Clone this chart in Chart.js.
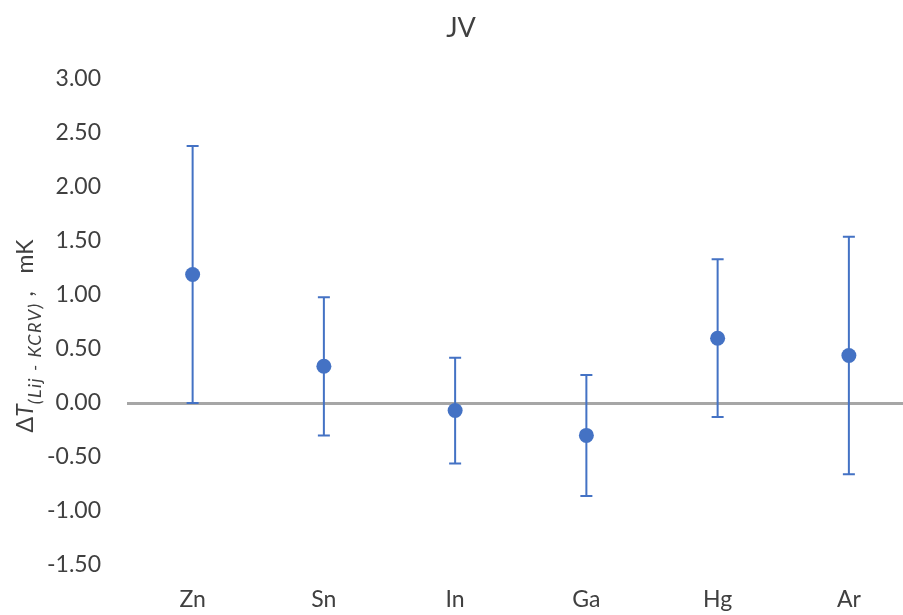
<!DOCTYPE html>
<html>
<head>
<meta charset="utf-8">
<script src="https://cdn.jsdelivr.net/npm/chart.js@4.4.1/dist/chart.umd.min.js"></script>
<style>
    html, body { margin: 0; padding: 0; background: #fff; overflow: hidden; }
    #wrap { width: 922px; height: 615px; position: relative; }
</style>
</head>
<body>
<div id="wrap"><canvas id="jvChart"></canvas></div>
<script>
// Values
const categories = ['Zn', 'Sn', 'In', 'Ga', 'Hg', 'Ar'];
const deltaT = [1.19, 0.34, -0.07, -0.30, 0.60, 0.44];
const uncertainty = [1.19, 0.64, 0.49, 0.56, 0.73, 1.10];
const yTicks = [-1.5, -1.0, -0.5, 0, 0.5, 1.0, 1.5, 2.0, 2.5, 3.0];

const blue = '#4472C4';
const textColor = '#404040';
const fontFamily = 'Lato, "Liberation Sans", sans-serif';

// Error bars with caps
const errorBars = {
    id: 'errorBars',
    beforeDatasetsDraw(chart) {
        const ctx = chart.ctx;
        const meta = chart.getDatasetMeta(0);
        const y = chart.scales.y;
        ctx.save();
        ctx.strokeStyle = blue;
        ctx.lineWidth = 2;
        meta.data.forEach((pt, i) => {
            const top = y.getPixelForValue(deltaT[i] + uncertainty[i]);
            const bottom = y.getPixelForValue(deltaT[i] - uncertainty[i]);
            ctx.beginPath();
            ctx.moveTo(pt.x, top);
            ctx.lineTo(pt.x, bottom);
            ctx.moveTo(pt.x - 6, top);
            ctx.lineTo(pt.x + 6, top);
            ctx.moveTo(pt.x - 6, bottom);
            ctx.lineTo(pt.x + 6, bottom);
            ctx.stroke();
        });
        ctx.restore();
    }
};

// Rotated y axis title with italic subscript
const yTitle = {
    id: 'yTitle',
    afterDraw(chart) {
        const ctx = chart.ctx;
        const parts = [
            { t: '\u0394', f: '23px ' + fontFamily, dy: 0, ls: 0 },
            { t: 'T', f: 'italic 23px ' + fontFamily, dy: 0, ls: 0 },
            { t: '(Lij - KCRV)', f: 'italic 18px ' + fontFamily, dy: 8, ls: 1.5 },
            { t: ' ,   mK', f: '23px ' + fontFamily, dy: 0, ls: 0 }
        ];
        ctx.save();
        let total = 0;
        parts.forEach(p => {
            ctx.font = p.f;
            ctx.letterSpacing = p.ls + 'px';
            p.w = ctx.measureText(p.t).width;
            total += p.w;
        });
        ctx.translate(33, 336);
        ctx.rotate(-Math.PI / 2);
        ctx.fillStyle = textColor;
        ctx.textBaseline = 'alphabetic';
        let x = -total / 2;
        parts.forEach(p => {
            ctx.font = p.f;
            ctx.letterSpacing = p.ls + 'px';
            ctx.fillText(p.t, x, p.dy);
            x += p.w;
        });
        ctx.restore();
    }
};

new Chart(document.getElementById('jvChart'), {
    type: 'line',
    data: {
        labels: categories,
        datasets: [{
            data: deltaT,
            showLine: false,
            pointRadius: 7.5,
            pointHoverRadius: 7.5,
            pointBackgroundColor: blue,
            pointBorderColor: blue,
            pointBorderWidth: 0
        }]
    },
    options: {
        responsive: true,
        maintainAspectRatio: false,
        animation: false,
        layout: { padding: 0 },
        plugins: {
            legend: { display: false },
            tooltip: { enabled: false },
            title: {
                display: true,
                text: 'JV',
                color: textColor,
                align: 'center',
                font: { family: fontFamily, size: 27, weight: 'normal', lineHeight: 1.2 },
                padding: { top: 12, bottom: 34.6 }
            }
        },
        scales: {
            x: {
                offset: true,
                grid: { display: false, drawTicks: false },
                border: { display: false },
                ticks: {
                    color: textColor,
                    padding: 21,
                    font: { family: fontFamily, size: 23 }
                },
                afterFit(scale) { scale.height = 50; }
            },
            y: {
                min: yTicks[0],
                max: yTicks[yTicks.length - 1],
                grid: {
                    drawTicks: false,
                    lineWidth: 3,
                    color: c => (c.tick && c.tick.value === 0 ? '#A6A6A6' : 'rgba(0,0,0,0)')
                },
                border: { display: false },
                afterBuildTicks(scale) { scale.ticks = yTicks.map(v => ({ value: v })); },
                ticks: {
                    color: textColor,
                    padding: 26,
                    font: { family: fontFamily, size: 23 },
                    callback: v => Number(v).toFixed(2)
                },
                afterFit(scale) { scale.width = 127; }
            }
        }
    },
    plugins: [errorBars, yTitle]
});
</script>
</body>
</html>
